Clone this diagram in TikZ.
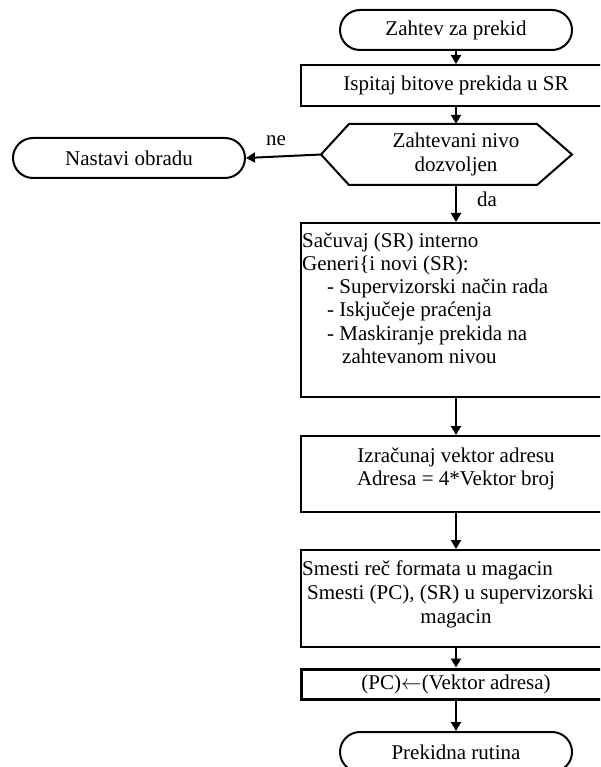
\documentclass[tikz,border=0pt]{standalone}
\usepackage{fontspec}
\setmainfont{Liberation Serif}
\usetikzlibrary{shapes.misc,arrows.meta,calc}
\begin{document}
\begin{tikzpicture}[x=1pt,y=-1pt,
  every node/.style={font=\fontsize{21}{23.2}\selectfont},
  term/.style={draw,line width=2pt,rounded rectangle,minimum width=232pt,minimum height=40pt,inner sep=0pt},
  procbox/.style={draw,line width=2pt,rectangle,minimum width=310pt,inner sep=0pt},
  txt/.style={inner sep=0pt},
  flow/.style={line width=2pt,-{Triangle[length=9pt,width=10pt]}}]
\fill[white] (0,0) rectangle (600,767);
\clip (0,0) rectangle (600,767);

% terminals and process boxes
\node[term] (start) at (456,30) {Zahtev za prekid};
\node[procbox,minimum height=41pt] (check) at (456,85.5) {Ispitaj bitove prekida u SR};

% decision (hexagon drawn around a text node)
\node[txt,minimum height=61pt,align=center] (dec) at (456,154.5) {Zahtevani nivo\\dozvoljen};
\draw[line width=2pt]
  ($(dec.center)+(-135,0)$) coordinate (decL)
  -- ($(dec.center)+(-107,-30.5)$)
  -- ($(dec.center)+(81,-30.5)$)
  -- ($(dec.center)+(116,0)$)
  -- ($(dec.center)+(81,30.5)$)
  -- ($(dec.center)+(-107,30.5)$)
  -- cycle;

\node[term] (cont) at (129,158) {Nastavi obradu};

\node[procbox,minimum height=174pt] (save) at (456,310) {};
\node[txt,anchor=north west,align=left] (savetext) at (302,232.4)
  {Sačuvaj (SR) interno\\
   Generi\{i novi (SR):\\
   \hspace*{25pt}- Supervizorski način rada\\
   \hspace*{25pt}- Iskjučeje praćenja\\
   \hspace*{25pt}- Maskiranje prekida na\\
   \hspace*{40pt}zahtevanom nivou};

\node[procbox,minimum height=76pt] (vec) at (456,474) {};
\node[txt,anchor=north,align=center] (vectext) at (456,447.7)
  {Izračunaj vektor adresu\\Adresa = 4*Vektor broj};

\node[procbox,minimum height=97pt] (stack) at (456,598.5) {};
\node[txt,anchor=base west] (stackA) at (302,575) {Smesti reč formata u magacin};
\node[txt,anchor=base west] (stackB) at (307,599) {Smesti (PC), (SR) u supervizorski};
\node[txt,anchor=base] (stackC) at (456,623) {magacin};

\node[procbox,line width=3pt,minimum height=30pt] (pc) at (456,684) {(PC)$\leftarrow$(Vektor adresa)};
\node[term] (fin) at (456,752) {Prekidna rutina};

% connectors
\draw[flow] (start) -- (check);
\draw[flow] (check) -- (dec.north);
\draw[flow] (decL) -- (cont.east);
\node[txt] (ne) at (276,141) {ne};
\draw[flow] (dec.south) -- (save.north);
\node[txt] (da) at (487,199) {da};
\draw[flow] (save) -- (vec);
\draw[flow] (vec) -- (stack);
\draw[flow] (stack) -- (pc);
\draw[flow] (pc) -- (fin);
\end{tikzpicture}
\end{document}
